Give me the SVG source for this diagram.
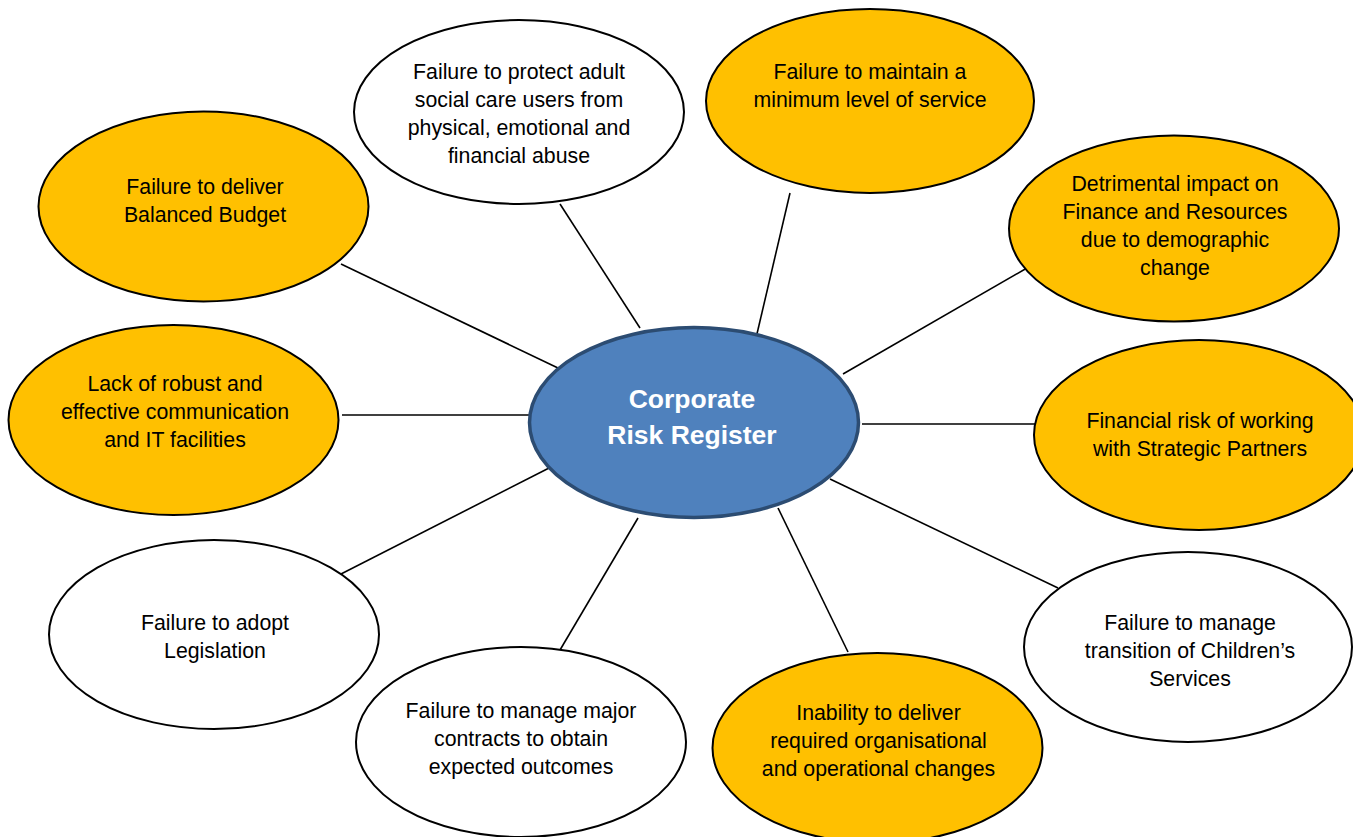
<svg xmlns="http://www.w3.org/2000/svg" width="1353" height="837" viewBox="0 0 1353 837">
<style>
.n{stroke:#000;stroke-width:2}
.o{fill:#FFC000}
.w{fill:#FFFFFF}
.t{font-family:"Liberation Sans",Arial,sans-serif;font-size:21.3px;fill:#000;text-anchor:middle}
.c{font-family:"Liberation Sans",Arial,sans-serif;font-size:26.5px;font-weight:bold;fill:#FFFFFF;text-anchor:middle}
.e line{stroke:#000;stroke-width:1.6}
</style>
<rect width="1353" height="837" fill="#FFFFFF"/>
<g id="connectors" class="e">
<line x1="341" y1="264" x2="558" y2="368"/>
<line x1="560" y1="204" x2="640" y2="328"/>
<line x1="790" y1="193" x2="756" y2="338"/>
<line x1="1027" y1="268" x2="843" y2="374"/>
<line x1="862" y1="424" x2="1040" y2="424"/>
<line x1="342" y1="415" x2="529" y2="415"/>
<line x1="553" y1="466" x2="341" y2="574"/>
<line x1="638" y1="518" x2="560" y2="650"/>
<line x1="778" y1="508" x2="848" y2="652"/>
<line x1="830" y1="479" x2="1058" y2="588"/>
</g>
<g id="n-protect">
<ellipse class="n w" cx="519" cy="112" rx="165" ry="92"/>
<text class="t" x="519" y="79">Failure to protect adult</text>
<text class="t" x="519" y="107">social care users from</text>
<text class="t" x="519" y="135">physical, emotional and</text>
<text class="t" x="519" y="163">financial abuse</text>
</g>
<g id="n-maintain">
<ellipse class="n o" cx="870" cy="101" rx="164" ry="92"/>
<text class="t" x="870" y="79">Failure to maintain a</text>
<text class="t" x="870" y="107">minimum level of service</text>
</g>
<g id="n-budget">
<ellipse class="n o" cx="203.5" cy="206.5" rx="165" ry="95"/>
<text class="t" x="205" y="194">Failure to deliver</text>
<text class="t" x="205" y="222">Balanced Budget</text>
</g>
<g id="n-detrimental">
<ellipse class="n o" cx="1174" cy="228.5" rx="165" ry="93"/>
<text class="t" x="1175" y="191">Detrimental impact on</text>
<text class="t" x="1175" y="219">Finance and Resources</text>
<text class="t" x="1175" y="247">due to demographic</text>
<text class="t" x="1175" y="275">change</text>
</g>
<g id="n-communication">
<ellipse class="n o" cx="173.5" cy="420" rx="165" ry="95"/>
<text class="t" x="175" y="391">Lack of robust and</text>
<text class="t" x="175" y="419">effective communication</text>
<text class="t" x="175" y="447">and IT facilities</text>
</g>
<g id="n-partners">
<ellipse class="n o" cx="1199" cy="435" rx="165" ry="95"/>
<text class="t" x="1200" y="428">Financial risk of working</text>
<text class="t" x="1200" y="456">with Strategic Partners</text>
</g>
<g id="n-legislation">
<ellipse class="n w" cx="214" cy="634.5" rx="165" ry="94.5"/>
<text class="t" x="215" y="630">Failure to adopt</text>
<text class="t" x="215" y="658">Legislation</text>
</g>
<g id="n-contracts">
<ellipse class="n w" cx="521" cy="742" rx="165" ry="95"/>
<text class="t" x="521" y="718">Failure to manage major</text>
<text class="t" x="521" y="746">contracts to obtain</text>
<text class="t" x="521" y="774">expected outcomes</text>
</g>
<g id="n-changes">
<ellipse class="n o" cx="877.5" cy="748" rx="165" ry="95"/>
<text class="t" x="878.5" y="720">Inability to deliver</text>
<text class="t" x="878.5" y="748">required organisational</text>
<text class="t" x="878.5" y="776">and operational changes</text>
</g>
<g id="n-childrens">
<ellipse class="n w" cx="1188" cy="647" rx="164" ry="95"/>
<text class="t" x="1190" y="630">Failure to manage</text>
<text class="t" x="1190" y="658">transition of Children’s</text>
<text class="t" x="1190" y="686">Services</text>
</g>
<g id="n-center">
<ellipse cx="694" cy="422.5" rx="164.5" ry="95" fill="#4F81BD" stroke="#2C4C72" stroke-width="3.5"/>
<text class="c" x="692" y="408">Corporate</text>
<text class="c" x="692" y="444">Risk Register</text>
</g>
</svg>
